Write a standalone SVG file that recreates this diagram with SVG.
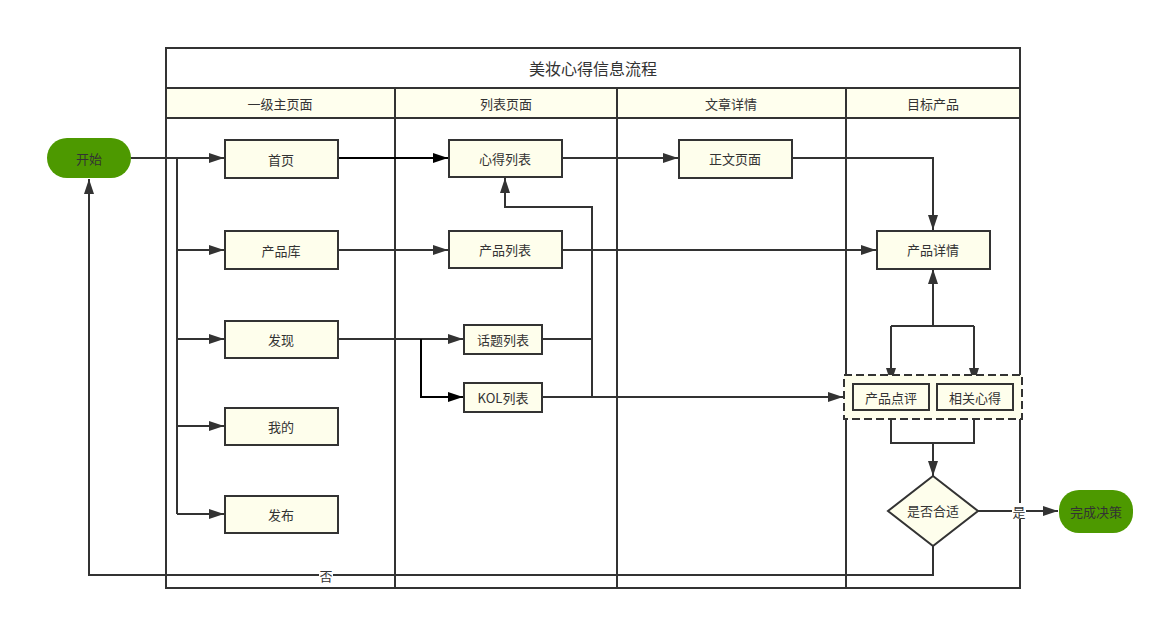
<svg xmlns="http://www.w3.org/2000/svg" width="1164" height="620" viewBox="0 0 1164 620">
<style>
text{font-family:"Noto Sans CJK SC","Liberation Sans",sans-serif;font-size:13px;fill:#333;text-anchor:middle;dominant-baseline:central}
.box{fill:#fefeec;stroke:#333;stroke-width:2}
.hdr{fill:#ffffee;stroke:#333;stroke-width:2}
.green{fill:#4d9900}
.ln{fill:none;stroke:#333;stroke-width:2}
.blk{fill:none;stroke:#000;stroke-width:2}
</style>
<defs>
<marker id="ar" markerUnits="userSpaceOnUse" markerWidth="15" markerHeight="10" refX="15" refY="5" orient="auto"><path d="M0,0 L15,5 L0,10 z" fill="#333"/></marker>
<marker id="arb" markerUnits="userSpaceOnUse" markerWidth="15" markerHeight="10" refX="15" refY="5" orient="auto"><path d="M0,0 L15,5 L0,10 z" fill="#000"/></marker>
</defs>
<g id="pool">
<rect x="166" y="48" width="854" height="540" fill="#fff" stroke="#333" stroke-width="2"/>
<text x="593" y="68" style="font-size:16px">美妆心得信息流程</text>
<rect class="hdr" x="166" y="88" width="229" height="30"/>
<rect class="hdr" x="395" y="88" width="222" height="30"/>
<rect class="hdr" x="617" y="88" width="229" height="30"/>
<rect class="hdr" x="846" y="88" width="174" height="30"/>
<text x="280" y="103">一级主页面</text>
<text x="506" y="103">列表页面</text>
<text x="731" y="103">文章详情</text>
<text x="933" y="103">目标产品</text>
<line class="ln" x1="395" y1="118" x2="395" y2="588"/>
<line class="ln" x1="617" y1="118" x2="617" y2="588"/>
<line class="ln" x1="846" y1="118" x2="846" y2="588"/>
</g>
<g id="connectors">
<path class="ln" d="M131,158 H224" marker-end="url(#ar)"/>
<path class="ln" d="M177,158 V514"/>
<path class="ln" d="M177,250 H224" marker-end="url(#ar)"/>
<path class="ln" d="M177,339 H224" marker-end="url(#ar)"/>
<path class="ln" d="M177,426 H224" marker-end="url(#ar)"/>
<path class="ln" d="M177,514 H224" marker-end="url(#ar)"/>
<path class="blk" d="M338,158 H448" marker-end="url(#arb)"/>
<path class="ln" d="M338,250 H448" marker-end="url(#ar)"/>
<path class="ln" d="M338,339 H463" marker-end="url(#ar)"/>
<path class="blk" d="M421,339 V397 H463" marker-end="url(#arb)"/>
<path class="ln" d="M542,339 H592"/>
<path class="ln" d="M592,397 V207 H505 V178" marker-end="url(#ar)"/>
<path class="ln" d="M542,397 H843" marker-end="url(#ar)"/>
<path class="ln" d="M562,158 H678" marker-end="url(#ar)"/>
<path class="ln" d="M792,158 H933 V230" marker-end="url(#ar)"/>
<path class="ln" d="M562,250 H876" marker-end="url(#ar)"/>
<path class="ln" d="M933,326 V269" marker-end="url(#ar)"/>
<path class="ln" d="M891,326 H974"/>
<path class="ln" d="M891,326 V383" marker-end="url(#ar)"/>
<path class="ln" d="M974,326 V383" marker-end="url(#ar)"/>
<path class="ln" d="M891,411 V443 H974 V411"/>
<path class="ln" d="M933,443 V476" marker-end="url(#ar)"/>
<path class="ln" d="M978,511 H1058" marker-end="url(#ar)"/>
<rect x="1012" y="503" width="14" height="16" fill="#fff"/>
<text x="1019" y="511">是</text>
<path class="ln" d="M933,546 V575 H89 V179" marker-end="url(#ar)"/>
<rect x="319" y="567" width="14" height="16" fill="#fff"/>
<text x="326" y="575">否</text>
</g>
<g id="start"><rect class="green" x="47" y="138" width="84" height="40" rx="20"/><text x="89" y="158">开始</text></g>
<g id="n-shouye"><rect class="box" x="225" y="140" width="113" height="38"/><text x="281" y="159">首页</text></g>
<g id="n-chanpinku"><rect class="box" x="225" y="231" width="113" height="38"/><text x="281" y="250">产品库</text></g>
<g id="n-faxian"><rect class="box" x="225" y="321" width="113" height="37"/><text x="281" y="339">发现</text></g>
<g id="n-wode"><rect class="box" x="225" y="408" width="113" height="37"/><text x="281" y="426">我的</text></g>
<g id="n-fabu"><rect class="box" x="225" y="496" width="113" height="37"/><text x="281" y="514">发布</text></g>
<g id="n-xindeliebiao"><rect class="box" x="449" y="140" width="113" height="37"/><text x="505" y="158">心得列表</text></g>
<g id="n-chanpinliebiao"><rect class="box" x="449" y="231" width="113" height="37"/><text x="505" y="249">产品列表</text></g>
<g id="n-huati"><rect class="box" x="464" y="325" width="78" height="29"/><text x="503" y="339">话题列表</text></g>
<g id="n-kol"><rect class="box" x="464" y="383" width="78" height="29"/><text x="503" y="397">KOL列表</text></g>
<g id="n-zhengwen"><rect class="box" x="679" y="140" width="113" height="38"/><text x="735" y="158">正文页面</text></g>
<g id="n-chanpinxiangqing"><rect class="box" x="877" y="231" width="113" height="38"/><text x="933" y="249">产品详情</text></g>
<g id="n-group">
<rect x="844" y="375" width="178" height="44" fill="#fefeec" stroke="#333" stroke-width="2" stroke-dasharray="8,4"/>
<rect class="box" x="853" y="384" width="76" height="26"/><text x="891" y="397">产品点评</text>
<rect class="box" x="937" y="384" width="76" height="26"/><text x="975" y="397">相关心得</text>
</g>
<g id="n-decision"><path class="box" d="M933,476 L978,511 L933,546 L888,511 Z"/><text x="933" y="510">是否合适</text></g>
<g id="end"><rect class="green" x="1059" y="490" width="74" height="43" rx="20"/><text x="1096" y="511">完成决策</text></g>
</svg>
